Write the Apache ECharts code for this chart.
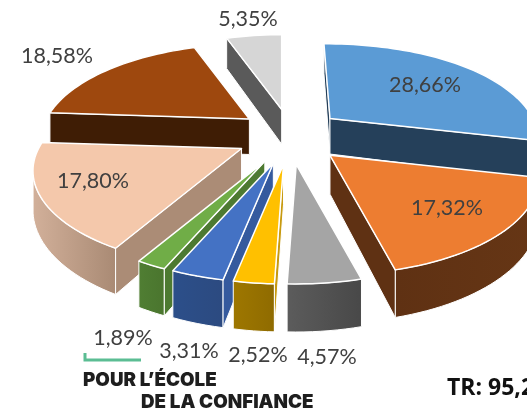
<!DOCTYPE html>
<html lang="fr">
<head>
	<meta charset="UTF-8">
	<title>Répartition</title>
	<style>
		html, body { margin: 0; padding: 0; background: #fff; overflow: hidden; }
		#main { width: 527px; height: 414px; }
	</style>
</head>
<body>
	<div id="main"></div>
<script src="https://cdn.jsdelivr.net/npm/echarts@6/dist/echarts.min.js"></script>
<script>
// valeurs, dans le sens des aiguilles depuis le haut
var labels = ['28,66%', '17,32%', '4,57%', '2,52%', '3,31%', '1,89%', '17,80%', '18,58%', '5,35%'];
var values = [28.66, 17.32, 4.57, 2.52, 3.31, 1.89, 17.80, 18.58, 5.35];

var topColors = ['#5B9BD5', '#ED7D31', '#A5A5A5', '#FFC000', '#4472C4', '#70AD47', '#F4C8AB', '#9E480E', '#D6D6D6'];
var rimLeft = ['#25405A', '#5F3113', '#5C5C5C', '#9E7700', '#2C4F8A', '#507E33', '#D2B09A', '#3F1D05', '#5A5A5A'];
var rimRight = ['#25405A', '#663615', '#484848', '#8F6B00', '#2C4A80', '#4A752E', '#A98A74', '#3F1D05', '#5A5A5A'];
var wallColors = ['#25405A', '#5F3113', '#525252', '#C79A10', '#355A9E', '#4D7A31', '#AB8C76', '#3F1D05', '#5A5A5A'];
var labelX = [425, 447, 327, 258, 189, 123, 93, 57, 248];
var labelY = [85, 208, 357, 355, 351, 338, 181, 56, 19];

// projection de la tarte
var cx = 290, cy = 135, rx = 203, ry = 92, persp = 0.23, depth = 37;
var explodeX = 0.262, explodeY = 0.3;

function scale(v) {
	return 1 / (1 - persp * v);
}
// decalage ecran d'un point du disque par rapport au sommet de sa part
function offset(u, v) {
	var s = scale(v);
	// la part du haut a droite penche un peu vers la gauche
	var lean = (u >= 0 && v < 0) ? 6 * v * (1 - u) * (1 - u) : 0;
	return { x: rx * u * s + lean, y: ry * v * s, s: s };
}
function down(p) {
	return [p.x, p.y + depth * p.s];
}
function pt(p) {
	return [p.x, p.y];
}
// une face verticale se voit si l'interieur de la part est de l'autre cote que le bas
function faces(a, b, inner) {
	var ex = b.x - a.x, ey = b.y - a.y;
	var c = ex * (inner.y - a.y) - ey * (inner.x - a.x);
	return ex * c < 0;
}

var total = values.reduce(function (a, b) { return a + b; }, 0);
var slices = [];
var acc = 0;
values.forEach(function (val, i) {
	var a0 = acc / total * Math.PI * 2;
	acc += val;
	var a1 = acc / total * Math.PI * 2;
	slices.push({ idx: i, a0: a0, a1: a1, mid: (a0 + a1) / 2 });
});
// de l'arriere vers l'avant
slices.sort(function (a, b) { return Math.cos(b.mid) - Math.cos(a.mid); });

function renderSlice(params, api) {
	var sl = slices[api.value(0)];
	var i = sl.idx;
	var du = explodeX * Math.sin(sl.mid), dv = -explodeY * Math.cos(sl.mid);
	var s0 = scale(dv);
	var apex = { x: cx + rx * du * s0, y: cy + ry * dv * s0, s: s0 };
	var arc = [];
	var steps = Math.max(6, Math.round((sl.a1 - sl.a0) * 30));
	for (var k = 0; k <= steps; k++) {
		var a = sl.a0 + (sl.a1 - sl.a0) * k / steps;
		var o = offset(Math.sin(a), -Math.cos(a));
		arc.push({ x: apex.x + o.x, y: apex.y + o.y, s: o.s });
	}
	var first = arc[0], last = arc[arc.length - 1];
	var midArc = arc[Math.floor(arc.length / 2)];
	var children = [];

	// bord exterieur : seulement les segments tournes vers nous
	var seen = arc.filter(function (p, n) {
		var nb = arc[n + 1] || arc[n - 1];
		return faces(p, nb, apex);
	});
	if (seen.length > 1) {
		children.push({
			type: 'polygon',
			shape: { points: seen.map(pt).concat(seen.slice().reverse().map(down)) },
			style: {
				fill: new echarts.graphic.LinearGradient(0, 0, 1, 0, [
					{ offset: 0, color: rimLeft[i] }, { offset: 1, color: rimRight[i] }
				]),
				stroke: '#fff', lineWidth: 1, lineJoin: 'round'
			}
		});
	}
	// faces radiales
	[first, last].forEach(function (e) {
		if (faces(apex, e, midArc)) {
			children.push({
				type: 'polygon',
				shape: { points: [pt(apex), pt(e), down(e), down(apex)] },
				style: { fill: wallColors[i], stroke: '#fff', lineWidth: 1, lineJoin: 'round' }
			});
		}
	});
	children.push({
		type: 'polygon',
		shape: { points: [pt(apex)].concat(arc.map(pt)) },
		style: { fill: topColors[i], stroke: '#fff', lineWidth: 1.5, lineJoin: 'round' }
	});
	children.push({
		type: 'text',
		z2: 50,
		style: {
			text: labels[i], x: labelX[i], y: labelY[i],
			align: 'center', verticalAlign: 'middle',
			font: '21.5px Lato', fill: '#404040'
		}
	});
	return { type: 'group', children: children };
}

var myChart = echarts.init(document.getElementById('main'), null, { renderer: 'canvas' });
myChart.setOption({
	animation: false,
	series: [{
		type: 'custom',
		coordinateSystem: 'none',
		renderItem: renderSlice,
		data: slices.map(function (s, k) { return [k, values[s.idx]]; }),
		silent: true,
		clip: false
	}],
	graphic: [
		{
			type: 'polyline',
			shape: { points: [[85, 353], [85, 360], [141, 360]] },
			style: { stroke: '#5BBD93', lineWidth: 3, fill: null }
		},
		{
			type: 'text', left: 83, top: 371,
			style: { text: 'POUR L’ÉCOLE', font: '900 18.8px Inter', fill: '#1E1E1E' }
		},
		{
			type: 'text', left: 141, top: 393,
			style: { text: 'DE LA CONFIANCE', font: '900 18.8px Inter', fill: '#1E1E1E' }
		},
		{
			type: 'text', left: 447, top: 377,
			style: { text: 'TR: 95,21%', font: 'bold 23px "Open Sans"', fill: '#111' }
		}
	]
});
</script>
</body>
</html>
